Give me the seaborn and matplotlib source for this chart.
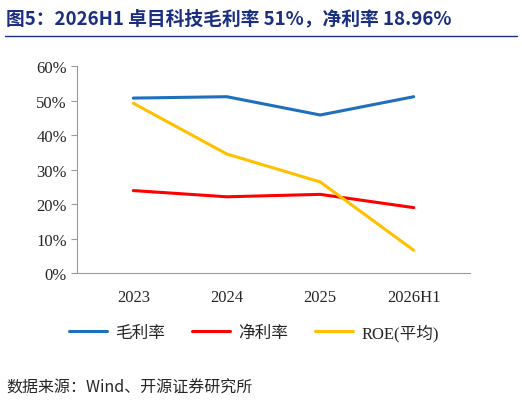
import matplotlib
matplotlib.use("Agg")
import matplotlib.pyplot as plt
import seaborn as sns
import pandas as pd

years = ["2023", "2024", "2025", "2026H1"]
gross = [50.7, 51.1, 45.8, 51.1]
net = [23.9, 22.1, 22.8, 18.96]
roe = [49.2, 34.5, 26.4, 6.6]

sns.set_style("white")
plt.rcParams['font.family'] = ['Liberation Serif', 'Noto Sans CJK SC']

df = pd.DataFrame({"year": years * 3,
                   "val": gross + net + roe,
                   "name": ["毛利率"] * 4 + ["净利率"] * 4 + ["ROE(平均)"] * 4})

fig = plt.figure(figsize=(5.22, 4.06), dpi=100)
ax = fig.add_axes([0.148, 0.325, 0.752, 0.51])
sns.lineplot(data=df, x="year", y="val", hue="name", sort=False, ax=ax,
             palette=["#1f6fbf", "#ff0000", "#ffc000"], linewidth=2.2)
ax.set_ylim(0, 60)
ax.set_xlim(-0.6, 3.6)
ax.set_yticks(range(0, 61, 10))
ax.set_yticklabels([f"{v}%" for v in range(0, 61, 10)], fontsize=12)
ax.tick_params(axis='x', labelsize=12, pad=8)
ax.set_xlabel("")
ax.set_ylabel("")
for s in ["top", "right"]:
    ax.spines[s].set_visible(False)
ax.spines["left"].set_color("#999999")
ax.spines["bottom"].set_color("#999999")
ax.tick_params(axis='y', length=4, color="#999999", direction="out", left=True)
ax.legend(loc="upper center", bbox_to_anchor=(0.45, -0.17), ncol=3, frameon=False,
          fontsize=12, handlelength=2.3, handletextpad=0.5, columnspacing=1.6)

fig.text(0.012, 0.955, "图5：2026H1 卓目科技毛利率 51%，净利率 18.96%", fontsize=13.5,
         fontweight="bold", color="#1a2f80", va="center",
         family=['Noto Sans CJK SC'])
fig.add_artist(plt.Line2D([0.01, 0.99], [0.908, 0.908], color="#1a2f80", linewidth=1))
fig.text(0.012, 0.045, "数据来源：Wind、开源证券研究所", fontsize=11.5, va="center",
         family=['Noto Sans CJK SC'])
fig.savefig("out.png", dpi=100)
